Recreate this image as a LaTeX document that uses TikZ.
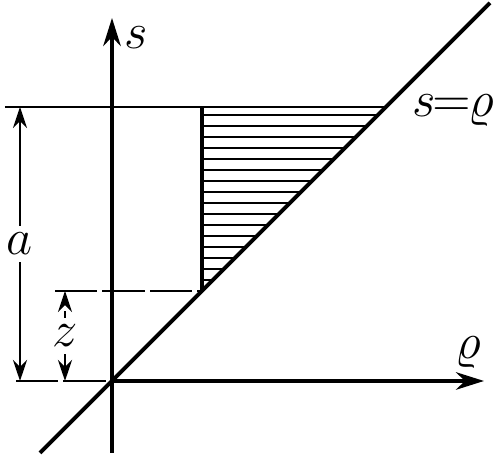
\documentclass[tikz,border=0pt]{standalone}
\usetikzlibrary{arrows.meta, positioning}

\begin{document}
\begin{tikzpicture}[x=0.01cm, y=0.01cm,
            axis/.style={-{Stealth[length=8pt, width=5pt]}, line width=1pt},
            main/.style={line width=1.1pt},
            thin/.style={line width=0.5pt},
            hatch/.style={line width=0.55pt},
            dim/.style={{Stealth[length=6pt, width=4pt]}-{Stealth[length=6pt, width=4pt]}, line width=0.6pt},
            lbl/.style={font=\Large, inner sep=1pt}
        ]
            \useasboundingbox (-112,-78) rectangle (388,381);

            \coordinate (O) at (0,0);
            \coordinate (Sbot) at (0,-72);
            \coordinate (Stop) at (0,363);
            \coordinate (Rend) at (372,0);
            \coordinate (Dbot) at (-72,-72);
            \coordinate (Dtop) at (378,378);
            \coordinate (Aleft) at (-107,274);
            \coordinate (Acorner) at (274,274);
            \coordinate (Htop) at (90,274);
            \coordinate (Hbot) at (90,90);
            \coordinate (Zleft) at (-57,90);
            \coordinate (Oleft) at (-96,0);

            % axes and the line s = rho
            \draw[axis] (Sbot) -- (Stop);
            \draw[axis] (O) -- (Rend);
            \draw[main] (Dbot) -- (Dtop);
            \node[lbl, anchor=west] (s) at (8,343) {$s$};
            \node[lbl] (rho) at (356,28) {$\varrho$};
            \node[lbl, anchor=west] (srho) at (296,270) {$s\!\!=\!\!\varrho$};

            % level s = a and s = z
            \draw[thin] (Aleft) -- (Acorner);
            \draw[main] (Htop) -- (Hbot);
            \draw[thin, dash pattern=on 12pt off 1.5pt] (Zleft) -- (Hbot);
            \draw[thin, dash pattern=on 12pt off 1.5pt] (Oleft) -- (O);

            % hatching
            \foreach \y in {101,112,...,273}
                \draw[hatch] (90,\y) -- (\y,\y);

            % dimensions
            \draw[dim] (-92,0) -- node[lbl, fill=white, inner sep=2pt] (a) {$a$} (-92,274);
            \draw[dim, dash pattern=on 4pt off 2pt] (-47,0) -- node[lbl, fill=white, inner sep=2pt] (z) {$z$} (-47,90);

        \end{tikzpicture}
\end{document}
